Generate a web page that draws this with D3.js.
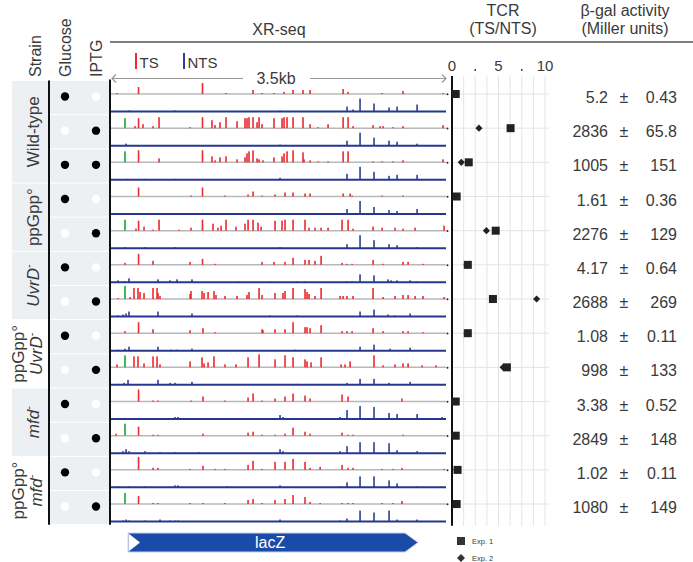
<!DOCTYPE html>
<html><head><meta charset="utf-8">
<script src="https://cdn.jsdelivr.net/npm/d3@7"></script>
<style>body{margin:0;background:#fff}svg{display:block;font-family:"Liberation Sans",Arial,sans-serif}</style>
</head><body><svg id="c" width="693" height="562"></svg>
<script>
// ---------- DATA ----------
const strainNames = [["Wild-type"],["ppGpp°"],["UvrD"],["ppGpp°","UvrD"],["mfd"],["ppGpp°","mfd"]];
const strainRows = [3,2,2,2,2,2];
const glucose = [1,0,1,1,0,1,0,1,0,1,0,1,0];
const iptg    = [0,1,1,0,1,0,1,0,1,0,1,0,1];
const betaMean = ["5.2","2836","1005","1.61","2276","4.17","2688","1.08","998","3.38","2849","1.02","1080"];
const betaSE   = ["0.43","65.8","151","0.36","129","0.64","269","0.11","133","0.52","148","0.11","149"];
const tcrExp1 = [0.4,6.3,1.8,0.5,4.7,1.7,4.4,1.7,5.9,0.4,0.4,0.6,0.5];
const tcrExp2 = [0.3,2.9,1.0,0.4,3.7,1.6,9.1,1.6,5.5,0.3,0.3,0.5,0.4];
const tcrTicks = [0,5,10];
const regionLength = 3500;      // bp
const greenPos = 146;           // bp
const greenHeight = [0,10,11,0,11,0,13,0,12,0,12,0,11];
const lacZ = [178, 3208];
// TS (red) peaks: [bp, signal]
const tsPeaks = [
 [[63,1],[288,7],[956,11],[1202,1],[1484,4],[1578,1],[1703,1],[1808,2],[1902,4],[2006,4],[2080,4],[2425,5],[2477,2],[2832,1],[3051,3],[3469,1]],
 [[251,2],[288,10],[334,4],[439,2],[502,11],[826,1],[956,11],[1055,8],[1087,3],[1139,6],[1202,11],[1317,7],[1400,10],[1421,10],[1442,11],[1484,11],[1526,6],[1547,11],[1578,4],[1703,10],[1787,10],[1808,11],[1839,11],[1902,11],[2006,11],[2080,4],[2163,1],[2268,4],[2425,11],[2477,11],[2529,2],[2738,3],[2811,2],[2842,2],[2947,1],[3051,2],[3469,3]],
 [[288,12],[502,4],[956,12],[1055,6],[1087,2],[1139,5],[1202,6],[1317,3],[1400,5],[1421,9],[1442,11],[1484,12],[1526,4],[1547,3],[1588,2],[1703,5],[1787,6],[1808,9],[1839,11],[1902,12],[2006,10],[2017,3],[2080,2],[2163,1],[2268,1],[2425,11],[2477,11],[2738,1],[2832,1],[2947,1],[3051,2],[3469,3]],
 [[288,9],[836,1],[956,9],[1191,1],[1432,2],[1484,5],[1578,1],[1714,2],[1818,4],[1902,4],[2027,3],[2080,3],[2425,3],[2498,3],[2519,1],[2832,1],[3051,1]],
 [[261,2],[288,10],[345,4],[439,1],[502,11],[711,1],[836,3],[956,11],[1066,7],[1118,3],[1150,5],[1202,11],[1306,4],[1400,7],[1432,11],[1484,11],[1536,8],[1568,4],[1714,10],[1787,10],[1818,11],[1902,11],[2027,11],[2069,3],[2132,3],[2195,3],[2268,3],[2414,11],[2477,11],[2529,2],[2738,4],[2832,3],[2968,3],[3051,2],[3177,3],[3480,5]],
 [[146,2],[288,11],[439,4],[826,3],[956,6],[1087,1],[1578,3],[1703,3],[1818,3],[1902,7],[2027,5],[2069,5],[2132,4],[2195,9],[2414,2],[2466,1],[2519,1],[2738,5],[2842,1],[3051,3],[3104,3],[3260,1]],
 [[73,1],[199,2],[240,11],[282,11],[303,7],[345,6],[439,11],[481,11],[491,6],[512,3],[826,5],[836,8],[951,8],[972,6],[1014,7],[1076,8],[1097,4],[1191,3],[1317,3],[1421,4],[1442,7],[1547,11],[1578,4],[1714,6],[1797,6],[1818,8],[1902,11],[2027,10],[2048,7],[2069,5],[2132,3],[2195,11],[2393,3],[2425,3],[2466,3],[2529,3],[2738,11],[2842,2],[2968,3],[3051,4],[3104,4],[3177,3],[3260,3],[3480,2]],
 [[146,2],[288,11],[439,4],[826,3],[961,5],[1087,1],[1578,4],[1588,3],[1714,4],[1818,4],[1902,11],[2027,6],[2048,6],[2080,5],[2195,8],[2414,2],[2466,2],[2519,2],[2738,5],[2842,2],[3051,2],[3104,2],[3260,1]],
 [[63,3],[240,11],[282,11],[345,4],[439,11],[481,11],[512,3],[826,6],[951,10],[972,4],[1014,5],[1076,11],[1191,3],[1306,3],[1432,10],[1547,13],[1714,8],[1818,12],[1902,10],[2027,8],[2048,6],[2090,5],[2195,10],[2404,3],[2445,3],[2498,6],[2748,12],[2842,2],[2968,3],[3051,4],[3104,4],[3250,2],[3396,2]],
 [[288,12],[439,1],[491,1],[836,1],[961,5],[1191,1],[1432,4],[1484,8],[1578,1],[1714,3],[1818,5],[1902,8],[2027,6],[2080,3],[2414,7],[2477,5],[3040,3]],
 [[52,2],[288,9],[439,1],[491,1],[961,2],[1432,3],[1484,4],[1578,1],[1714,1],[1818,2],[1902,8],[2027,4],[2080,2],[2414,3],[2477,1],[2529,1],[3051,1]],
 [[288,13],[439,2],[491,2],[826,1],[961,4],[1087,1],[1191,1],[1432,5],[1484,9],[1578,1],[1714,8],[1818,8],[1902,11],[2027,8],[2080,2],[2185,3],[2414,5],[2477,2],[2529,2],[2832,1],[2947,1],[3040,2],[3480,1]],
 [[288,8],[439,1],[491,1],[826,1],[961,1],[1191,1],[1432,4],[1484,5],[1578,1],[1714,4],[1818,5],[1902,9],[2027,7],[2080,2],[2185,1],[2414,1],[2477,1],[2529,1],[2832,1],[2947,1],[3040,3]]
];
// NTS (blue) peaks: [bp, signal]
const ntsPeaks = [
 [[188,1],[669,1],[1766,1],[2466,5],[2529,2],[2602,13],[2748,8],[2905,4],[2989,5],[3198,7]],
 [[157,2],[1766,1],[2466,5],[2602,13],[2748,8],[2905,5],[2989,4],[3198,2]],
 [[167,1],[355,1],[669,1],[1766,2],[2466,6],[2602,13],[2748,8],[2905,4],[2989,5],[3198,5]],
 [[1766,1],[2466,5],[2602,13],[2748,7],[2905,4],[2989,3],[3198,5]],
 [[146,1],[355,1],[669,1],[1766,1],[2466,4],[2602,13],[2748,8],[2905,4],[2989,3],[3198,1]],
 [[73,2],[146,1],[188,4],[491,3],[617,2],[690,3],[846,3],[1327,1],[1662,1],[1944,1],[2027,1],[2466,1],[2519,1],[2602,8],[2748,7],[2895,3],[2926,2],[2989,2],[3125,2],[3198,1]],
 [[73,1],[125,2],[157,3],[188,5],[491,5],[846,3],[1662,1],[1944,1],[2602,5],[2748,7],[2895,2],[2968,1],[3125,3]],
 [[73,1],[146,2],[188,4],[491,4],[627,1],[690,1],[846,2],[1923,1],[2602,4],[2748,6],[2916,2],[3125,3]],
 [[73,1],[136,2],[178,5],[491,5],[617,2],[669,2],[846,3],[1944,1],[2466,2],[2602,6],[2748,6],[2905,2],[3125,3]],
 [[188,1],[355,1],[669,2],[700,2],[1766,4],[1797,2],[2393,2],[2466,9],[2602,13],[2748,12],[2905,6],[2989,5],[3198,5],[3459,2]],
 [[125,2],[157,4],[188,2],[355,2],[512,1],[669,1],[921,1],[1766,4],[1797,2],[2393,2],[2466,7],[2602,11],[2748,11],[2905,10],[2989,3],[3198,2]],
 [[73,1],[188,1],[355,1],[669,2],[700,2],[1212,1],[1766,2],[2393,1],[2466,5],[2602,11],[2748,11],[2905,7],[2989,4],[3198,1]],
 [[125,1],[157,2],[188,1],[355,1],[512,2],[617,1],[669,1],[700,1],[1766,2],[2393,1],[2466,3],[2602,11],[2748,9],[2905,11],[2989,2],[3198,2]]
];

// ---------- DRAW ----------
const svg = d3.select("#c");
const nRows = betaMean.length;
const row = d3.scaleBand().domain(d3.range(nRows)).range([80.5, 80.5 + 34.17*nRows]).paddingInner(0);
const x = d3.scaleLinear().domain([0, regionLength]).range([111, 446]);
const h = d3.scaleLinear().domain([0, 13]).range([0, 13]);
const tcr = d3.scaleLinear().domain([0, 10]).range([452, 545]);
const TXT = "#3a3a3a", RED = "#ec2a2f", BLUE = "#2d3f9c", NAVY = "#27378e", GREEN = "#2fb24a", BG = "#edf0f3";
const tsY = i => row(i) + 13.5, ntsY = i => row(i) + 31, midY = i => row(i) + 16.5;
const top0 = row(0), bot = row(nRows-1) + row.bandwidth();
const diamondPath = s => `M0,${-s}L${s},0L0,${s}L${-s},0Z`;

// header
svg.append("text").attr("x",279).attr("y",35).attr("text-anchor","middle").attr("font-size",16).attr("fill",TXT).text("XR-seq");
svg.append("text").attr("x",503).attr("y",16).attr("text-anchor","middle").attr("font-size",16).attr("fill",TXT).text("TCR");
svg.append("text").attr("x",503).attr("y",34).attr("text-anchor","middle").attr("font-size",16).attr("fill",TXT).text("(TS/NTS)");
svg.append("text").attr("x",625).attr("y",16).attr("text-anchor","middle").attr("font-size",16).attr("fill",TXT).text("β-gal activity");
svg.append("text").attr("x",625).attr("y",34).attr("text-anchor","middle").attr("font-size",16).attr("fill",TXT).text("(Miller units)");
svg.append("line").attr("x1",110).attr("x2",693).attr("y1",42).attr("y2",42).attr("stroke","#808080").attr("stroke-width",2);
[["Strain",35],["Glucose",65],["IPTG",96]].forEach(([t,cx])=>{
  svg.append("text").attr("transform",`translate(${cx+6},77) rotate(-90)`).attr("font-size",16).attr("fill",TXT).text(t);
});

// TS / NTS legend
svg.append("rect").attr("x",135).attr("y",53).attr("width",2).attr("height",16).attr("fill",RED);
svg.append("text").attr("x",139.5).attr("y",68).attr("font-size",15).attr("fill",TXT).text("TS");
svg.append("rect").attr("x",183).attr("y",53).attr("width",2).attr("height",16).attr("fill",BLUE);
svg.append("text").attr("x",187.5).attr("y",68).attr("font-size",15).attr("fill",TXT).text("NTS");

// 3.5kb scale arrow
const sy = 78.5;
svg.append("line").attr("x1",x(0)+1).attr("x2",243).attr("y1",sy).attr("y2",sy).attr("stroke","#999").attr("stroke-width",1.2);
svg.append("line").attr("x1",310).attr("x2",x(regionLength)).attr("y1",sy).attr("y2",sy).attr("stroke","#999").attr("stroke-width",1.2);
svg.append("path").attr("d",`M${x(0)+5},${sy-4}L${x(0)+1},${sy}L${x(0)+5},${sy+4}`).attr("fill","none").attr("stroke","#999").attr("stroke-width",1.2);
svg.append("path").attr("d",`M${x(regionLength)-4},${sy-4}L${x(regionLength)},${sy}L${x(regionLength)-4},${sy+4}`).attr("fill","none").attr("stroke","#999").attr("stroke-width",1.2);
svg.append("text").attr("x",276).attr("y",sy+5.5).attr("text-anchor","middle").attr("font-size",16).attr("fill",TXT).text("3.5kb");

// left backgrounds
let r0 = 0;
strainRows.forEach((n,k)=>{
  const y0 = row(r0), y1 = row(r0+n-1)+row.bandwidth();
  if (strainNames[k].length===1)
    svg.append("rect").attr("x",12).attr("y",y0+0.5).attr("width",36).attr("height",y1-y0-1).attr("fill",BG);
  r0 += n;
});
d3.range(nRows).forEach(i=>{
  svg.append("rect").attr("x",50).attr("y",row(i)+0.5).attr("width",59).attr("height",row.bandwidth()-1).attr("fill",BG);
});
// strain labels
r0 = 0;
strainNames.forEach((lines,k)=>{
  const n = strainRows[k];
  const cy = (row(r0) + row(r0+n-1) + row.bandwidth())/2;
  const italicIdx = (k>=2) ? lines.length-1 : -1;
  lines.forEach((ln,j)=>{
    const cx = lines.length===1 ? 33 : (j===0 ? 18 : 36);
    const t = svg.append("text").attr("transform",`translate(${cx+6},${cy}) rotate(-90)`)
      .attr("text-anchor","middle").attr("font-size",17).attr("fill",TXT);
    if (j===italicIdx) {
      t.append("tspan").attr("font-style","italic").text(ln);
      t.append("tspan").attr("font-size",11).attr("dy",-7).text("-");
    } else t.text(ln);
  });
  r0 += n;
});
// glucose / IPTG dots
d3.range(nRows).forEach(i=>{
  svg.append("circle").attr("cx",65).attr("cy",midY(i)-0.5).attr("r",4.2).attr("fill",glucose[i]?"#000":"#fff");
  svg.append("circle").attr("cx",96).attr("cy",midY(i)-0.5).attr("r",4.2).attr("fill",iptg[i]?"#000":"#fff");
});
svg.append("line").attr("x1",49).attr("x2",49).attr("y1",top0).attr("y2",bot).attr("stroke","#111").attr("stroke-width",2);
svg.append("line").attr("x1",110).attr("x2",110).attr("y1",top0-1).attr("y2",bot).attr("stroke","#111").attr("stroke-width",2);

// tracks
d3.range(nRows).forEach(i=>{
  const g = svg.append("g").attr("transform",`translate(0,${tsY(i)})`);
  g.append("line").attr("x1",x(0)).attr("x2",x(regionLength)).attr("stroke","#b8b8b8").attr("stroke-width",1.5);
  g.append("circle").attr("cx",x(regionLength)+1.5).attr("cy",0.3).attr("r",1).attr("fill","#222");
  g.selectAll("rect.ts").data(tsPeaks[i]).join("rect").attr("class","ts")
    .attr("x",d=>x(d[0])-0.8).attr("y",d=>-h(d[1])).attr("width",1.6).attr("height",d=>h(d[1])).attr("fill",RED);
  if (greenHeight[i]) g.append("rect").attr("x",x(greenPos)-0.9).attr("y",-h(greenHeight[i])).attr("width",1.8).attr("height",h(greenHeight[i])).attr("fill",GREEN);
  const gn = svg.append("g").attr("transform",`translate(0,${ntsY(i)})`);
  gn.selectAll("rect").data(ntsPeaks[i]).join("rect")
    .attr("x",d=>x(d[0])-0.8).attr("y",d=>-h(d[1])).attr("width",1.6).attr("height",d=>h(d[1])).attr("fill",BLUE);
  gn.append("line").attr("x1",x(0)).attr("x2",x(regionLength)).attr("stroke",NAVY).attr("stroke-width",2);
});

// lacZ gene arrow
const ly0 = 533, ly1 = 552, lm = (ly0+ly1)/2, lx0 = x(lacZ[0]), lx1 = x(lacZ[1]);
svg.append("path").attr("d",`M${lx0},${ly0}L${lx1-13},${ly0}L${lx1},${lm}L${lx1-13},${ly1}L${lx0},${ly1}Z`)
  .attr("fill","#1b4ba8").attr("stroke","#c8d2ea").attr("stroke-width",1);
svg.append("path").attr("d",`M${lx0+0.5},${ly0+0.5}L${lx0+12},${lm}L${lx0+0.5},${ly1-0.5}Z`).attr("fill","#fff");
svg.append("text").attr("x",(lx0+lx1)/2-3).attr("y",lm+5.5).attr("text-anchor","middle").attr("font-size",16).attr("fill","#fff").text("lacZ");

// TCR panel
const gy0 = 76, gy1 = bot+1;
d3.range(1.25,10.01,1.25).forEach(v=>{
  svg.append("line").attr("x1",tcr(v)).attr("x2",tcr(v)).attr("y1",gy0).attr("y2",gy1).attr("stroke","#e4e4e4").attr("stroke-width",1);
});
d3.range(nRows).forEach(i=>{
  svg.append("line").attr("x1",tcr(0)).attr("x2",549).attr("y1",tsY(i)).attr("y2",tsY(i)).attr("stroke","#e4e4e4").attr("stroke-width",1);
});
svg.append("line").attr("x1",tcr(0)).attr("x2",tcr(0)).attr("y1",gy0).attr("y2",gy1).attr("stroke","#111").attr("stroke-width",2);
tcrTicks.forEach(v=>{
  svg.append("text").attr("x",tcr(v)).attr("y",71).attr("text-anchor","middle").attr("font-size",15).attr("fill",TXT).text(v);
});
[2.5,7.5].forEach(v=>{
  svg.append("rect").attr("x",tcr(v)-0.8).attr("y",69).attr("width",1.6).attr("height",1.8).attr("fill",TXT);
});
d3.range(nRows).forEach(i=>{
  svg.append("path").attr("d",diamondPath(3.6)).attr("transform",`translate(${tcr(tcrExp2[i])},${tsY(i)})`).attr("fill","#222");
});
d3.range(nRows).forEach(i=>{
  svg.append("rect").attr("x",tcr(tcrExp1[i])-4).attr("y",tsY(i)-4).attr("width",8).attr("height",8).attr("fill","#222");
});
// legend
svg.append("rect").attr("x",457).attr("y",537).attr("width",8).attr("height",8).attr("fill","#333");
svg.append("text").attr("x",472).attr("y",544).attr("font-size",7.5).attr("fill",TXT).text("Exp. 1");
svg.append("path").attr("d",diamondPath(4)).attr("transform","translate(461,558)").attr("fill","#333");
svg.append("text").attr("x",472).attr("y",561).attr("font-size",7.5).attr("fill",TXT).text("Exp. 2");

// beta-gal values
d3.range(nRows).forEach(i=>{
  const y = midY(i)+6;
  svg.append("text").attr("x",608).attr("y",y).attr("text-anchor","end").attr("font-size",16).attr("fill",TXT).text(betaMean[i]);
  svg.append("text").attr("x",624).attr("y",y).attr("text-anchor","middle").attr("font-size",16).attr("fill",TXT).text("±");
  svg.append("text").attr("x",677).attr("y",y).attr("text-anchor","end").attr("font-size",16).attr("fill",TXT).text(betaSE[i]);
});
</script></body></html>
